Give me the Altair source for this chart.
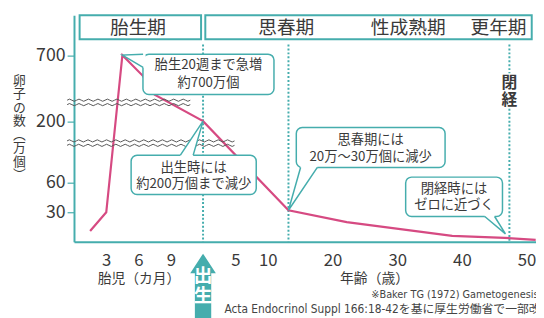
import altair as alt
import pandas as pd

# ---------------- data ----------------
fetal_months = [1.5, 3, 4.5, 6.4, 7.5]          # 胎児（カ月）
fetal_counts = [11, 30, 700, 543, 400]          # 卵子の数（万個）
ages = [0, 13.2, 22.2, 38.5, 46.6, 51.4]        # 年齢（歳）
age_counts = [200, 32, 20, 6, 4, 2]

y_ticks = [30, 60, 200, 700]
x_fetal_ticks = [3, 6, 9]
x_age_ticks = [5, 10, 20, 30, 40, 50]

# period header (x in years relative to birth, fetal part as month/12 - 1)
head_box_t0 = [-0.9565, 0.35]
head_box_t1 = [-0.0153, 50.79]
head_labels = ["胎生期", "思春期", "性成熟期", "更年期"]
head_label_t = [-0.504, 12.86, 31.7, 45.66]

# milestone lines
puberty_age = 13.2
menopause_age = 47.34

# call-out bubbles
bub_t0 = [-0.4656, -0.5573, 14.41, 31.31]
bub_t1 = [10.96, 8.219, 37.40, 46.27]
bub_v0 = [707.5, 122.2, 185.6, 72.7]
bub_v1 = [401.5, 48, 94.4, 25.7]
bub_text = ["胎生20週まで急増", "約700万個", "出生時には", "約200万個まで減少",
            "思春期には", "20万～30万個に減少", "閉経時には", "ゼロに近づく"]
bub_text_t = [0.837, 0.837, -0.0725, -0.0725, 25.9, 25.9, 38.78, 38.78]
bub_text_v = [621.7, 491, 94.4, 59, 156.7, 118.9, 54, 37]
pointer_t = [4.5 / 12 - 1, 0, 13.2, 46.73]
pointer_v = [700, 200, 32, 8]

footnotes = ["※Baker TG (1972) Gametogenesis,",
             "Acta Endocrinol Suppl 166:18-42を基に厚生労働省で一部改変"]
foot_t = [26.0, 3.30]
foot_v = [-54, -68.5]
foot_size = [11, 12]

# ---------------- styles ----------------
TEAL = "#45adad"
PINK = "#d64a82"
INK = "#3a3a3a"
FONT = "Noto Sans CJK JP"


def fm(m):
    return m / 12 - 1


def wave_path(half_width, n_half, amp, gap):
    step = 2 * half_width / n_half
    parts = []
    for dy in (-gap / 2, gap / 2):
        x = -half_width
        d = f"M{x:.2f},{dy:.2f}"
        sign = -1
        for _ in range(n_half):
            d += f" Q{x + step / 2:.2f},{dy + sign * amp * 2:.2f} {x + step:.2f},{dy:.2f}"
            x += step
            sign = -sign
        parts.append(d)
    return " ".join(parts)


xs = alt.Scale(domain=[-1, 0, 51.45], range=[0, 131, 469], nice=False, zero=False)
ys = alt.Scale(domain=[0, 30, 60, 200, 700, 1000],
               range=[230, 200, 170, 107.5, 40.5, 0], nice=False, zero=False)


# other layers leave the axis unspecified so the main layer's axis settings win
def X(f="t"):
    return alt.X(f"{f}:Q", scale=xs)


def Y(f="v"):
    return alt.Y(f"{f}:Q", scale=ys)


layers = []

line_df = pd.DataFrame({"t": [fm(m) for m in fetal_months] + ages,
                        "v": fetal_counts + age_counts})
x_axis = alt.Axis(values=[fm(m) for m in x_fetal_ticks] + x_age_ticks,
                  labelExpr="datum.value < 0 ? format((datum.value + 1) * 12, 'd') : format(datum.value, 'd')",
                  ticks=False, domainColor=TEAL, domainWidth=2, labelFontSize=17, labelPadding=11,
                  labelColor=INK, labelFont=FONT, grid=False, title="", labelFlush=False,
                  labelOverlap=False)
y_axis = alt.Axis(values=y_ticks, ticks=True, tickSize=7, tickColor=TEAL, tickWidth=1.2,
                  domainColor=TEAL, domainWidth=2, labelFontSize=18, labelPadding=2,
                  labelColor=INK, labelFont=FONT, grid=False, labelOverlap=False, labelFlush=False,
                  title=list("卵子の数") + ["︵", "万", "個", "︶"], titleAngle=0, titleX=-56,
                  titleY=60, titleAlign="center", titleBaseline="top", titleFontSize=13,
                  titleLineHeight=13.7, titleFont=FONT, titleFontWeight="normal", titleColor=INK)
line_layer = alt.Chart(line_df).mark_line(color=PINK, strokeWidth=2.2).encode(
    x=alt.X("t:Q", scale=xs, axis=x_axis), y=alt.Y("v:Q", scale=ys, axis=y_axis))

# dotted milestone lines
rules_df = pd.DataFrame({
    "t": [0, puberty_age, menopause_age, menopause_age],
    "v0": [780, 780, 780, 293],
    "v1": [0, 0, 562, 0],
})
layers.append(alt.Chart(rules_df).mark_rule(color=TEAL, strokeWidth=2, strokeDash=[2, 2]).encode(
    x=X(), y=Y("v0"), y2="v1"))

layers.append(line_layer)

# axis-break wavy marks
for (wt, wv, hw, nh) in [(-0.576, 341.8, 62.5, 26), (-0.405, 150, 85, 36)]:
    layers.append(alt.Chart(pd.DataFrame({"t": [wt], "v": [wv]})).mark_point(
        shape=wave_path(hw, nh, 1.1, 4.5), size=4, filled=False, stroke="#555555",
        strokeWidth=1.0, opacity=1).encode(x=X(), y=Y()))

# bubbles
bub_df = pd.DataFrame({"t0": bub_t0, "t1": bub_t1, "v0": bub_v0, "v1": bub_v1})
layers.append(alt.Chart(bub_df).mark_rect(cornerRadius=6, fill="white", stroke=TEAL,
                                          strokeWidth=1.5).encode(
    x=X("t0"), x2="t1", y=Y("v0"), y2="v1"))

pointer_stroke = ["M21,-1 L0,0 L21,12.5",
                  "M-23,34.5 L0,0 L-10,34.5",
                  "M12.3,-43.5 L0,0 L29.3,-43.5",
                  "M-21,-17.7 L0,0 L-11,-17.7"]
pointer_fill = ["M0,0 L21,-1 L23.5,-1 L23.5,12.5 L21,12.5 Z",
                "M0,0 L-23,34.5 L-23,37 L-10,37 L-10,34.5 Z",
                "M0,0 L12.3,-43.5 L12.3,-46 L29.3,-46 L29.3,-43.5 Z",
                "M0,0 L-21,-17.7 L-21,-20.2 L-11,-20.2 L-11,-17.7 Z"]
for i in range(4):
    pdf = pd.DataFrame({"t": [pointer_t[i]], "v": [pointer_v[i]]})
    layers.append(alt.Chart(pdf).mark_point(shape=pointer_fill[i], size=4, filled=True,
                                            color="white", strokeWidth=0, opacity=1).encode(
        x=X(), y=Y()))
    layers.append(alt.Chart(pdf).mark_point(shape=pointer_stroke[i], size=4, filled=False,
                                            color=TEAL, strokeWidth=1.5, opacity=1).encode(
        x=X(), y=Y()))

bt_df = pd.DataFrame({"t": bub_text_t, "v": bub_text_v, "txt": bub_text})
layers.append(alt.Chart(bt_df).mark_text(font=FONT, fontSize=13.5, color=INK, align="center",
                                         baseline="middle").encode(x=X(), y=Y(), text="txt:N"))

# period header
hb_df = pd.DataFrame({"t0": head_box_t0, "t1": head_box_t1, "v0": [1000, 1000], "v1": [820, 820]})
layers.append(alt.Chart(hb_df).mark_rect(fill="white", stroke=TEAL, strokeWidth=2).encode(
    x=X("t0"), x2="t1", y=Y("v0"), y2="v1"))
ht_df = pd.DataFrame({"t": head_label_t, "v": [906] * 4, "txt": head_labels})
layers.append(alt.Chart(ht_df).mark_text(font=FONT, fontSize=19, color=INK, align="center",
                                         baseline="middle").encode(x=X(), y=Y(), text="txt:N"))

# 閉経 label
mp_df = pd.DataFrame({"t": [menopause_age] * 2, "v": [485.8, 362], "txt": ["閉", "経"]})
layers.append(alt.Chart(mp_df).mark_text(font=FONT, fontSize=16, fontWeight="bold", color=INK,
                                         align="center", baseline="middle").encode(
    x=X(), y=Y(), text="txt:N"))

# 出生 arrow
layers.append(alt.Chart(pd.DataFrame({"t": [0], "v": [-12]})).mark_point(
    shape="M0,0 L13,20 L8.3,20 L8.3,70 L-8.3,70 L-8.3,20 L-13,20 Z", size=4, filled=True,
    color=TEAL, strokeWidth=0, opacity=1).encode(x=X(), y=Y()))
ar_df = pd.DataFrame({"t": [0, 0], "v": [-35, -55], "txt": ["出", "生"]})
layers.append(alt.Chart(ar_df).mark_text(font=FONT, fontSize=19, fontWeight="bold", color="white",
                                         align="center", baseline="middle").encode(
    x=X(), y=Y(), text="txt:N"))

# x-axis titles
xt_df = pd.DataFrame({"t": [fm(6.05), 26.5], "v": [-38, -38], "txt": ["胎児（カ月）", "年齢（歳）"]})
layers.append(alt.Chart(xt_df).mark_text(font=FONT, fontSize=14, color=INK, align="center",
                                         baseline="middle").encode(x=X(), y=Y(), text="txt:N"))

# footnote
fn_df = pd.DataFrame({"t": foot_t, "v": foot_v, "txt": footnotes, "fs": foot_size})
layers.append(alt.Chart(fn_df).mark_text(font="DejaVu Sans Condensed, Noto Sans CJK JP",
                                         color="#444444", align="left",
                                         baseline="middle").encode(
    x=X(), y=Y(), text="txt:N", size=alt.Size("fs:Q", scale=None, legend=None)))

chart = alt.layer(*layers).properties(
    width=469, height=230,
    autosize=alt.AutoSizeParams(type="none"),
    padding={"left": 67, "top": 5, "right": 0, "bottom": 75},
).configure_view(stroke=None)

chart.save("out.html", embed_options={"renderer": "svg", "actions": False})
